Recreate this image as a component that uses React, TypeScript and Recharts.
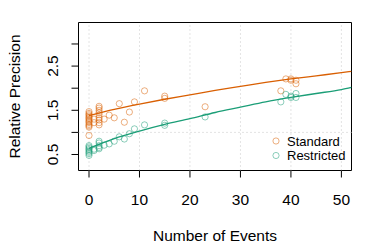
import React from 'react';
import {
  ComposedChart, XAxis, YAxis, Scatter, Line, ReferenceLine, ReferenceArea, Legend,
} from 'recharts';

const stdEvents = [0,0,0,0,0,0,0,0,0,0,0,0,0,1,1,2,2,2,2,2,2,2,2,2,3,4,5,6,7,8,9,11,15,15,23,38,39,40,40,41,41];
const stdPrecision = [1.47,1.43,1.40,1.37,1.34,1.31,1.28,1.25,1.22,1.18,1.15,1.12,0.93,1.30,1.22,1.59,1.55,1.50,1.45,1.40,1.33,1.28,1.22,1.17,1.30,1.39,1.33,1.65,1.23,1.46,1.69,1.94,1.82,1.77,1.58,1.94,2.21,2.21,2.18,2.18,2.10];

const resEvents = [0,0,0,0,0,0,0,0,1,1,2,2,2,2,2,3,4,5,6,7,8,9,11,15,15,23,38,39,40,40,41,41];
const resPrecision = [0.70,0.67,0.64,0.61,0.58,0.55,0.52,0.48,0.59,0.62,0.80,0.76,0.70,0.66,0.63,0.71,0.74,0.80,0.90,0.85,0.97,1.08,1.17,1.21,1.16,1.35,1.69,1.86,1.79,1.82,1.88,1.79];

const curveEvents = [0,5,10,15,20,25,30,35,40,45,50,52];
const stdCurve = [1.38,1.52,1.64,1.75,1.85,1.95,2.04,2.13,2.21,2.28,2.35,2.38];
const resCurve = [0.64,0.86,1.03,1.18,1.31,1.45,1.57,1.69,1.79,1.88,1.97,2.02];

const xTicks = [0,10,20,30,40,50];
const yTicks = [0.5,1,1.5,2,2.5,3];
const yLabelled = [0.5,1.5,2.5];

const ORANGE = '#D95F02';
const GREEN = '#1B9E77';
const FONT = '"Liberation Sans", Arial, Helvetica, sans-serif';

const stdPts = stdEvents.map((x, i) => ({ x, y: stdPrecision[i] }));
const resPts = resEvents.map((x, i) => ({ x, y: resPrecision[i] }));
const stdLine = curveEvents.map((x, i) => ({ x, y: stdCurve[i] }));
const resLine = curveEvents.map((x, i) => ({ x, y: resCurve[i] }));

const ring = (color: string) => (props: any) => (
  <circle cx={props.cx} cy={props.cy} r={3.1} fill="none" stroke={color} strokeOpacity={0.5} strokeWidth={1} />
);

const YTick = (props: any) => {
  const { x, y, payload } = props;
  if (!yLabelled.includes(payload.value)) return null;
  return (
    <text x={x} y={y} transform={`rotate(-90, ${x}, ${y})`} textAnchor="middle" fontSize={15.5} fill="#000" fontFamily={FONT}>
      {String(payload.value)}
    </text>
  );
};

const LegendBox = () => (
  <svg width={100} height={36} style={{ display: 'block' }}>
    <circle cx={6} cy={9} r={3.1} fill="none" stroke={ORANGE} strokeOpacity={0.5} />
    <text x={17} y={13.5} fontSize={13} fontFamily={FONT} fill="#000">Standard</text>
    <circle cx={6} cy={23.5} r={3.1} fill="none" stroke={GREEN} strokeOpacity={0.5} />
    <text x={17} y={28} fontSize={13} fontFamily={FONT} fill="#000">Restricted</text>
  </svg>
);

export default function App() {
  return (
    <div style={{ position: 'absolute', left: 0, top: 0, width: 374, height: 249, background: '#fff' }}>
      <ComposedChart width={374} height={249} margin={{ top: 22.5, right: 22.5, bottom: 0, left: 0 }} style={{ fontFamily: FONT }}>
        <XAxis
          type="number" dataKey="x" domain={[-2.08, 52]} ticks={xTicks} allowDataOverflow
          height={78.5} tickSize={7} tickMargin={16} axisLine={false}
          tickLine={{ stroke: '#000' }} tick={{ fill: '#000', fontSize: 15.5, fontFamily: FONT }}
          label={{
            content: (p: any) => {
              const vb = p.viewBox;
              return (
                <text x={vb.x + vb.width / 2} y={241} textAnchor="middle" fontSize={15.5} fill="#000" fontFamily={FONT}>
                  Number of Events
                </text>
              );
            },
          }}
        />
        <YAxis
          type="number" dataKey="y" domain={[0.138, 3.486]} ticks={yTicks} allowDataOverflow
          width={78.5} tickSize={7} tickMargin={13.5} axisLine={false}
          tickLine={{ stroke: '#000' }} tick={<YTick />} interval={0}
          label={{
            content: (p: any) => {
              const vb = p.viewBox;
              const cy = vb.y + vb.height / 2;
              return (
                <text x={19.5} y={cy} transform={`rotate(-90, 19.5, ${cy})`} textAnchor="middle" fontSize={15.5} fill="#000" fontFamily={FONT}>
                  Relative Precision
                </text>
              );
            },
          }}
        />
        {xTicks.map((t) => (
          <ReferenceLine key={t} x={t} stroke="#c8c8c8" strokeDasharray="1 3" ifOverflow="visible" />
        ))}
        <ReferenceLine y={1} stroke="#c8c8c8" strokeDasharray="1 3" />
        <ReferenceArea x1={-2.08} x2={52} y1={0.138} y2={3.486} fill="none" stroke="#000" strokeWidth={1} ifOverflow="visible" />
        <Scatter data={stdPts} dataKey="y" shape={ring(ORANGE)} isAnimationActive={false} />
        <Scatter data={resPts} dataKey="y" shape={ring(GREEN)} isAnimationActive={false} />
        <Line data={stdLine} dataKey="y" type="monotone" stroke={ORANGE} strokeWidth={1.3} dot={false} activeDot={false} isAnimationActive={false} />
        <Line data={resLine} dataKey="y" type="monotone" stroke={GREEN} strokeWidth={1.3} dot={false} activeDot={false} isAnimationActive={false} />
        <Legend
          layout="horizontal" verticalAlign="middle" align="center"
          content={() => <LegendBox />}
          wrapperStyle={{ position: 'absolute', left: 270, top: 131.5, width: 100, height: 36 }}
        />
      </ComposedChart>
    </div>
  );
}
